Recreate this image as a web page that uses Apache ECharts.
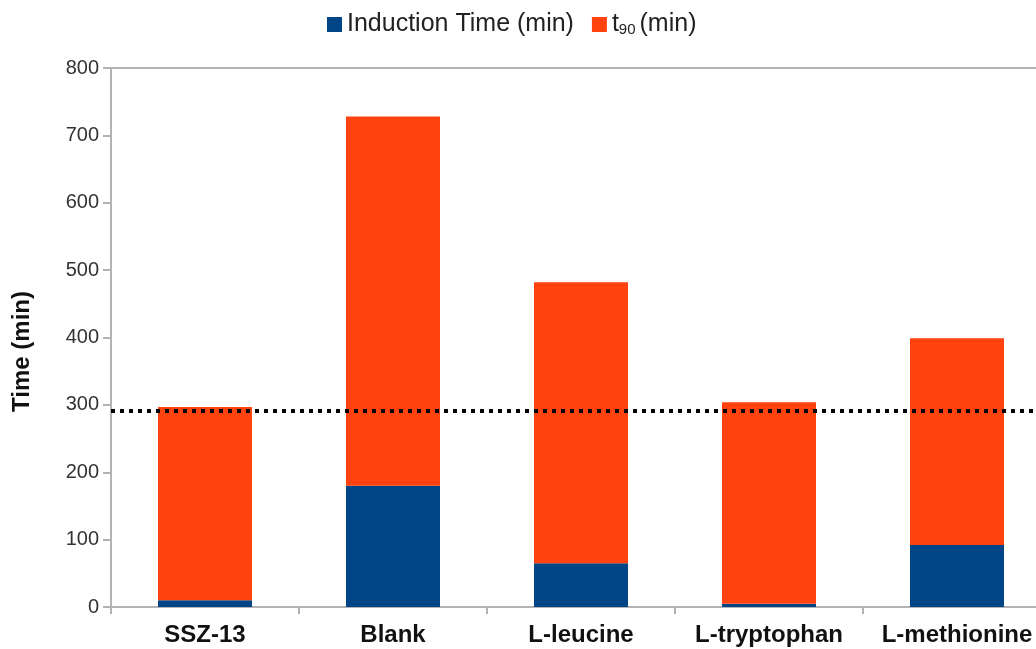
<!DOCTYPE html>
<html>
<head>
<meta charset="utf-8">
<script src="https://cdn.jsdelivr.net/npm/echarts@6/dist/echarts.min.js"></script>
<style>html,body{margin:0;padding:0;background:#fff;overflow:hidden;width:1036px;height:649px;}#c{width:1051px;height:649px;}</style>
</head>
<body>
<div id="c"></div>
<script>
const categories = ['SSZ-13', 'Blank', 'L-leucine', 'L-tryptophan', 'L-methionine'];
const inductionTime = [10, 180, 65, 5, 92];
const t90 = [287, 548, 417, 299, 307];
const referenceLevel = 292;
const yTicks = { min: 0, max: 800, interval: 100 };

const chart = echarts.init(document.getElementById('c'), null, { renderer: 'canvas' });
const FONT = 'Liberation Sans';
chart.setOption({
  animation: false,
  textStyle: { fontFamily: FONT },
  legend: {
    top: 7, left: 322,
    itemWidth: 15, itemHeight: 15, itemGap: 18,
    icon: 'rect',
    textStyle: { fontFamily: FONT, fontSize: 25, color: '#222',
      rich: { sub: { fontSize: 15, verticalAlign: 'bottom', padding: [10, 4, 0, 0], fontFamily: FONT, color: '#222' },
              n: { fontSize: 25, fontFamily: FONT, color: '#222' } } },
    formatter: function (name) {
      if (name === 't90 (min)') return '{n|t}{sub|90}{n|(min)}';
      return name;
    },
    data: ['Induction Time (min)', 't90 (min)']
  },
  grid: { left: 111, right: 0, top: 68, bottom: 42, containLabel: false },
  xAxis: [{
    type: 'category', data: categories,
    axisLine: { lineStyle: { color: '#b3b3b3', width: 2 } },
    axisTick: { show: true, length: 7, lineStyle: { color: '#b3b3b3', width: 2 } },
    axisLabel: { interval: 0, fontFamily: FONT, fontSize: 24, fontWeight: 'bold', color: '#111', margin: 16 }
  }, {
    type: 'category', data: categories, position: 'top',
    axisLine: { show: true, lineStyle: { color: '#b3b3b3', width: 2 } },
    axisTick: { show: false }, axisLabel: { show: false }
  }],
  yAxis: {
    type: 'value', min: yTicks.min, max: yTicks.max, interval: yTicks.interval,
    name: 'Time (min)', nameLocation: 'middle', nameGap: 77, nameRotate: 90,
    nameTextStyle: { fontFamily: FONT, fontSize: 24, fontWeight: 'bold', color: '#111', padding: [0, 28, 0, 0] },
    axisLine: { show: true, lineStyle: { color: '#b3b3b3', width: 2 } },
    axisTick: { show: true, length: 8, lineStyle: { color: '#b3b3b3', width: 2 } },
    axisLabel: { fontFamily: FONT, fontSize: 20, color: '#333', margin: 12 },
    splitLine: { show: false }
  },
  series: [{
    name: 'Induction Time (min)', type: 'bar', stack: 'total', barWidth: '50%',
    itemStyle: { color: '#004586' }, data: inductionTime
  }, {
    name: 't90 (min)', type: 'bar', stack: 'total', barWidth: '50%',
    itemStyle: { color: '#ff420e' }, data: t90,
    markLine: {
      silent: true, symbol: 'none', label: { show: false },
      lineStyle: { color: '#000', type: [4, 5], width: 4 },
      data: [{ yAxis: referenceLevel }]
    }
  }]
});
</script>
</body>
</html>
